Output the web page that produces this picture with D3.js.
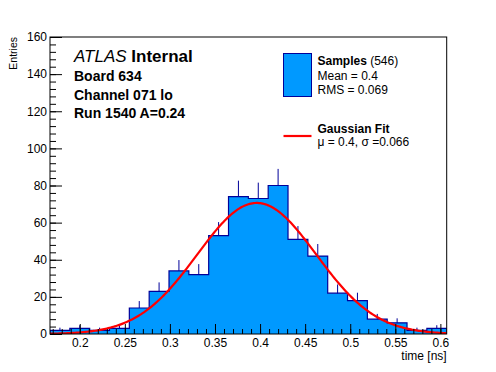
<!DOCTYPE html>
<html>
<head>
<meta charset="utf-8">
<script src="https://cdn.jsdelivr.net/npm/d3@7"></script>
<style>
  body { margin: 0; background: #fff; }
  svg { display: block; font-family: "Liberation Sans", Arial, Helvetica, sans-serif; }
</style>
</head>
<body>
<svg id="chart" width="496" height="372"></svg>
<script>
// histogram contents, 20 bins between xMin and xMax
var binCounts = [2, 3, 2, 3, 14, 23, 34, 32, 53, 74, 73, 80, 51, 42, 22, 18, 8, 6, 2, 3];
var xMin = 0.167;
var xMax = 0.607;
var totalEntries = 546;

// gaussian fit parameters
var fitMean = 0.3963;
var fitSigma = 0.066;
var fitAmplitude = 70.6;

var xTicks = [0.2, 0.25, 0.3, 0.35, 0.4, 0.45, 0.5, 0.55, 0.6];
var yTicks = [0, 20, 40, 60, 80, 100, 120, 140, 160];

var headerLines = ['Board 634', 'Channel 071 lo', 'Run 1540 A=0.24'];
var legendStats = ['Mean = 0.4', 'RMS = 0.069'];

var frameLeft = 50;
var frameRight = 446.7;
var frameTop = 37;
var frameBottom = 334;

var fillBlue = '#0099ff';
var lineBlue = '#000099';
var fitRed = '#ff0000';

var svg = d3.select('#chart');

var x = d3.scaleLinear()
  .domain([xMin, xMax])
  .range([frameLeft, frameRight]);

var y = d3.scaleLinear()
  .domain([0, 160])
  .range([frameBottom, frameTop]);

var binWidth = (xMax - xMin) / binCounts.length;
var bins = binCounts.map(function(c, i) {
  return { lo: xMin + i * binWidth, hi: xMin + (i + 1) * binWidth, count: c };
});

svg.append('clipPath')
  .attr('id', 'frame-clip')
  .append('rect')
  .attr('x', frameLeft)
  .attr('y', frameTop)
  .attr('width', frameRight - frameLeft)
  .attr('height', frameBottom - frameTop);

var plot = svg.append('g')
  .attr('clip-path', 'url(#frame-clip)');

// error bars go first so the fill hides the lower half
plot.selectAll('.err')
  .data(bins)
  .enter().append('line')
  .attr('class', 'err')
  .attr('x1', function(d) { return x((d.lo + d.hi) / 2); })
  .attr('x2', function(d) { return x((d.lo + d.hi) / 2); })
  .attr('y1', function(d) { return y(d.count - Math.sqrt(d.count)); })
  .attr('y2', function(d) { return y(d.count + Math.sqrt(d.count)); })
  .attr('stroke', lineBlue)
  .attr('stroke-width', 1);

// step points: each bin's left edge, plus the last right edge
var steps = bins.map(function(d) { return [d.lo, d.count]; });
steps.push([xMax, bins[bins.length - 1].count]);

var stepArea = d3.area()
  .curve(d3.curveStepAfter)
  .x(function(d) { return x(d[0]); })
  .y0(y(0))
  .y1(function(d) { return y(d[1]); });

plot.append('path')
  .datum(steps)
  .attr('d', stepArea)
  .attr('fill', fillBlue)
  .attr('stroke', 'none');

var outline = [[xMin, 0]].concat(steps).concat([[xMax, 0]]);
var stepLine = d3.line()
  .curve(d3.curveStepAfter)
  .x(function(d) { return x(d[0]); })
  .y(function(d) { return y(d[1]); });

plot.append('path')
  .datum(outline)
  .attr('d', stepLine)
  .attr('fill', 'none')
  .attr('stroke', lineBlue)
  .attr('stroke-width', 1.2);

// fitted gaussian, evaluated across the frame
var fitPoints = d3.range(xMin, xMax, (xMax - xMin) / 300).concat([xMax]).map(function(t) {
  var z = (t - fitMean) / fitSigma;
  return [t, fitAmplitude * Math.exp(-0.5 * z * z)];
});

plot.append('path')
  .datum(fitPoints)
  .attr('d', d3.line()
    .x(function(d) { return x(d[0]); })
    .y(function(d) { return y(d[1]); }))
  .attr('fill', 'none')
  .attr('stroke', fitRed)
  .attr('stroke-width', 2.2);

// frame
svg.append('rect')
  .attr('x', frameLeft)
  .attr('y', frameTop)
  .attr('width', frameRight - frameLeft)
  .attr('height', frameBottom - frameTop)
  .attr('fill', 'none')
  .attr('stroke', '#000')
  .attr('stroke-width', 1);

// x axis: major and minor ticks pointing into the frame
var xMinor = d3.range(0.17, xMax, 0.01);
svg.append('g')
  .attr('transform', 'translate(0,' + frameBottom + ')')
  .call(d3.axisBottom(x).tickValues(xMinor).tickSize(-5).tickSizeOuter(0).tickFormat(''))
  .call(function(g) { g.select('.domain').remove(); });

svg.append('g')
  .attr('class', 'x-axis')
  .attr('transform', 'translate(0,' + frameBottom + ')')
  .call(d3.axisBottom(x).tickValues(xTicks).tickSize(-10).tickSizeOuter(0).tickPadding(4)
    .tickFormat(d3.format('~g')))
  .call(function(g) { g.select('.domain').remove(); });

// y axis
var yMinor = d3.range(0, 161, 4);
svg.append('g')
  .attr('transform', 'translate(' + frameLeft + ',0)')
  .call(d3.axisLeft(y).tickValues(yMinor).tickSize(-6).tickSizeOuter(0).tickFormat(''))
  .call(function(g) { g.select('.domain').remove(); });

svg.append('g')
  .attr('class', 'y-axis')
  .attr('transform', 'translate(' + frameLeft + ',0)')
  .call(d3.axisLeft(y).tickValues(yTicks).tickSize(-12).tickSizeOuter(0).tickPadding(3))
  .call(function(g) { g.select('.domain').remove(); });

svg.selectAll('.tick line').attr('stroke', '#000');
svg.selectAll('.x-axis text, .y-axis text')
  .attr('font-family', '"Liberation Sans", Arial, sans-serif')
  .attr('font-size', 12)
  .attr('fill', '#000');

// axis titles
svg.append('text')
  .attr('x', frameRight)
  .attr('y', 360)
  .attr('text-anchor', 'end')
  .attr('font-size', 12)
  .text('time [ns]');

svg.append('text')
  .attr('transform', 'translate(16.5,' + frameTop + ') rotate(-90)')
  .attr('text-anchor', 'end')
  .attr('font-size', 10.5)
  .text('Entries');

// header
var atlas = svg.append('text')
  .attr('x', 74)
  .attr('y', 62)
  .attr('font-size', 17);
atlas.append('tspan').attr('font-style', 'italic').text('ATLAS');
atlas.append('tspan').attr('font-weight', 'bold').text(' Internal');

svg.selectAll('.header')
  .data(headerLines)
  .enter().append('text')
  .attr('class', 'header')
  .attr('x', 74)
  .attr('y', function(d, i) { return 81 + i * 18.5; })
  .attr('font-size', 14)
  .attr('font-weight', 'bold')
  .text(function(d) { return d; });

// legend
var legend = svg.append('g').attr('class', 'legend');

legend.append('rect')
  .attr('x', 283.5)
  .attr('y', 53.5)
  .attr('width', 28)
  .attr('height', 43)
  .attr('fill', fillBlue)
  .attr('stroke', lineBlue)
  .attr('stroke-width', 1);

var samples = legend.append('text')
  .attr('x', 317.5)
  .attr('y', 65)
  .attr('font-size', 12);
samples.append('tspan').attr('font-weight', 'bold').text('Samples');
samples.append('tspan').text(' (' + totalEntries + ')');

legend.selectAll('.stat')
  .data(legendStats)
  .enter().append('text')
  .attr('class', 'stat')
  .attr('x', 317.5)
  .attr('y', function(d, i) { return 79.5 + i * 14; })
  .attr('font-size', 12)
  .text(function(d) { return d; });

legend.append('line')
  .attr('x1', 283.5)
  .attr('x2', 311.5)
  .attr('y1', 136)
  .attr('y2', 136)
  .attr('stroke', fitRed)
  .attr('stroke-width', 2.2);

legend.append('text')
  .attr('x', 317.5)
  .attr('y', 132.5)
  .attr('font-size', 12)
  .attr('font-weight', 'bold')
  .text('Gaussian Fit');

legend.append('text')
  .attr('x', 317.5)
  .attr('y', 145.5)
  .attr('font-size', 12)
  .text('\u03bc = 0.4, \u03c3 =0.066');
</script>
</body>
</html>
